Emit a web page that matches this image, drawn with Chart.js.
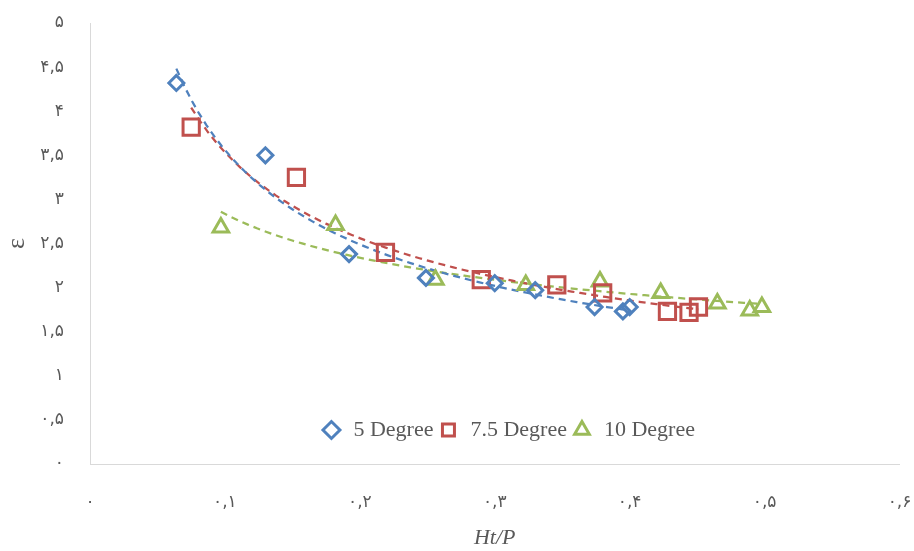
<!DOCTYPE html>
<html>
<head>
<meta charset="utf-8">
<script src="https://cdn.jsdelivr.net/npm/chart.js@4.4.1/dist/chart.umd.min.js"></script>
<style>
  html, body { margin: 0; padding: 0; background: #fff; }
  #chart { display: block; }
</style>
</head>
<body>
<canvas id="chart" width="914" height="551"></canvas>
<script>
// series values
var seriesNames = ['5 Degree', '7.5 Degree', '10 Degree'];

var x5 = [0.064, 0.130, 0.192, 0.249, 0.300, 0.330, 0.374, 0.395, 0.400];
var y5 = [4.32, 3.50, 2.38, 2.11, 2.05, 1.97, 1.78, 1.73, 1.78];

var x75 = [0.075, 0.153, 0.219, 0.290, 0.346, 0.380, 0.428, 0.444, 0.451];
var y75 = [3.82, 3.25, 2.40, 2.09, 2.03, 1.94, 1.73, 1.72, 1.78];

var x10 = [0.097, 0.182, 0.256, 0.323, 0.378, 0.423, 0.465, 0.489, 0.498];
var y10 = [2.68, 2.71, 2.09, 2.03, 2.07, 1.94, 1.82, 1.74, 1.78];

var xTickLabels = ['۰', '۰,۱', '۰,۲', '۰,۳', '۰,۴', '۰,۵', '۰,۶'];
var yTickLabels = ['۰', '۰,۵', '۱', '۱,۵', '۲', '۲,۵', '۳', '۳,۵', '۴', '۴,۵', '۵'];

var blue = '#4F81BD', red = '#C0504D', green = '#9BBB59';
var grey = '#595959';

function toPoints(xs, ys) {
  var pts = [];
  for (var i = 0; i < xs.length; i++) pts.push({ x: xs[i], y: ys[i] });
  return pts;
}

// power trendline (least squares on logs), like the spreadsheet one
function powerTrend(xs, ys) {
  var n = xs.length, sx = 0, sy = 0, sxx = 0, sxy = 0;
  for (var i = 0; i < n; i++) {
    var lx = Math.log(xs[i]), ly = Math.log(ys[i]);
    sx += lx; sy += ly; sxx += lx * lx; sxy += lx * ly;
  }
  var b = (n * sxy - sx * sy) / (n * sxx - sx * sx);
  var a = Math.exp((sy - b * sx) / n);
  var lo = Math.min.apply(null, xs), hi = Math.max.apply(null, xs);
  var pts = [];
  for (var k = 0; k <= 60; k++) {
    var x = lo + (hi - lo) * k / 60;
    pts.push({ x: x, y: a * Math.pow(x, b) });
  }
  return pts;
}

function markerSet(label, xs, ys, color, style, radius) {
  return {
    label: label,
    data: toPoints(xs, ys),
    pointStyle: style,
    pointRadius: radius,
    pointHoverRadius: radius,
    borderColor: color,
    backgroundColor: 'rgba(0,0,0,0)',
    borderWidth: 3
  };
}

function trendSet(xs, ys, color) {
  return {
    label: 'trend',
    data: powerTrend(xs, ys),
    showLine: true,
    pointRadius: 0,
    borderColor: color,
    backgroundColor: color,
    borderWidth: 2.25,
    borderDash: [7, 5]
  };
}

// legend sits inside the plot, near the bottom
var legendInside = {
  id: 'legendInside',
  afterUpdate: function (chart) {
    var lg = chart.legend, area = chart.chartArea;
    var cx = area.left + (area.right - area.left) * 0.516;
    lg.left = cx - 300; lg.right = cx + 300;
    lg.top = area.bottom - 49; lg.bottom = area.bottom - 6;
    lg.width = 600; lg.height = 43;
  }
};

var tickFont = { family: "'DejaVu Sans', sans-serif", size: 17 };
var serif = "'Liberation Serif', 'Times New Roman', serif";

new Chart(document.getElementById('chart'), {
  type: 'scatter',
  data: {
    datasets: [
      markerSet(seriesNames[0], x5, y5, blue, 'rectRot', 7.5),
      markerSet(seriesNames[1], x75, y75, red, 'rect', 11.5),
      markerSet(seriesNames[2], x10, y10, green, 'triangle', 9),
      trendSet(x5, y5, blue),
      trendSet(x75, y75, red),
      trendSet(x10, y10, green)
    ]
  },
  options: {
    responsive: false,
    animation: false,
    layout: { padding: { top: 22, right: 14, bottom: 0, left: 0 } },
    plugins: {
      tooltip: { enabled: false },
      legend: {
        position: 'top',
        maxHeight: 1,
        labels: {
          usePointStyle: true,
          boxHeight: 12,
          padding: 4,
          color: grey,
          font: { family: serif, size: 22 },
          filter: function (item) { return item.datasetIndex < 3; }
        }
      }
    },
    scales: {
      x: {
        type: 'linear',
        min: 0,
        max: 0.6,
        grid: { display: false },
        border: { display: true, color: '#d9d9d9', width: 1 },
        ticks: {
          stepSize: 0.1,
          padding: 20,
          color: grey,
          font: tickFont,
          callback: function (v, i) { return xTickLabels[i]; }
        },
        title: {
          display: true,
          text: 'Ht/P',
          color: grey,
          padding: { top: 0, bottom: 0 },
          font: { family: serif, size: 22, style: 'italic' }
        },
        afterFit: function (s) {
          s.height = 87;
          s.paddingLeft = 10; s.paddingRight = 10;
        }
      },
      y: {
        min: 0,
        max: 5,
        grid: { display: false },
        border: { display: true, color: '#d9d9d9', width: 1 },
        ticks: {
          stepSize: 0.5,
          padding: 18,
          color: grey,
          font: tickFont,
          callback: function (v, i) { return yTickLabels[i]; }
        },
        title: {
          display: true,
          text: 'ε',
          color: grey,
          padding: { top: 2, bottom: 0 },
          font: { family: serif, size: 26 }
        },
        afterFit: function (s) {
          s.width = 90;
          s.paddingTop = 8; s.paddingBottom = 8;
        }
      }
    }
  },
  plugins: [legendInside]
});
</script>
</body>
</html>
